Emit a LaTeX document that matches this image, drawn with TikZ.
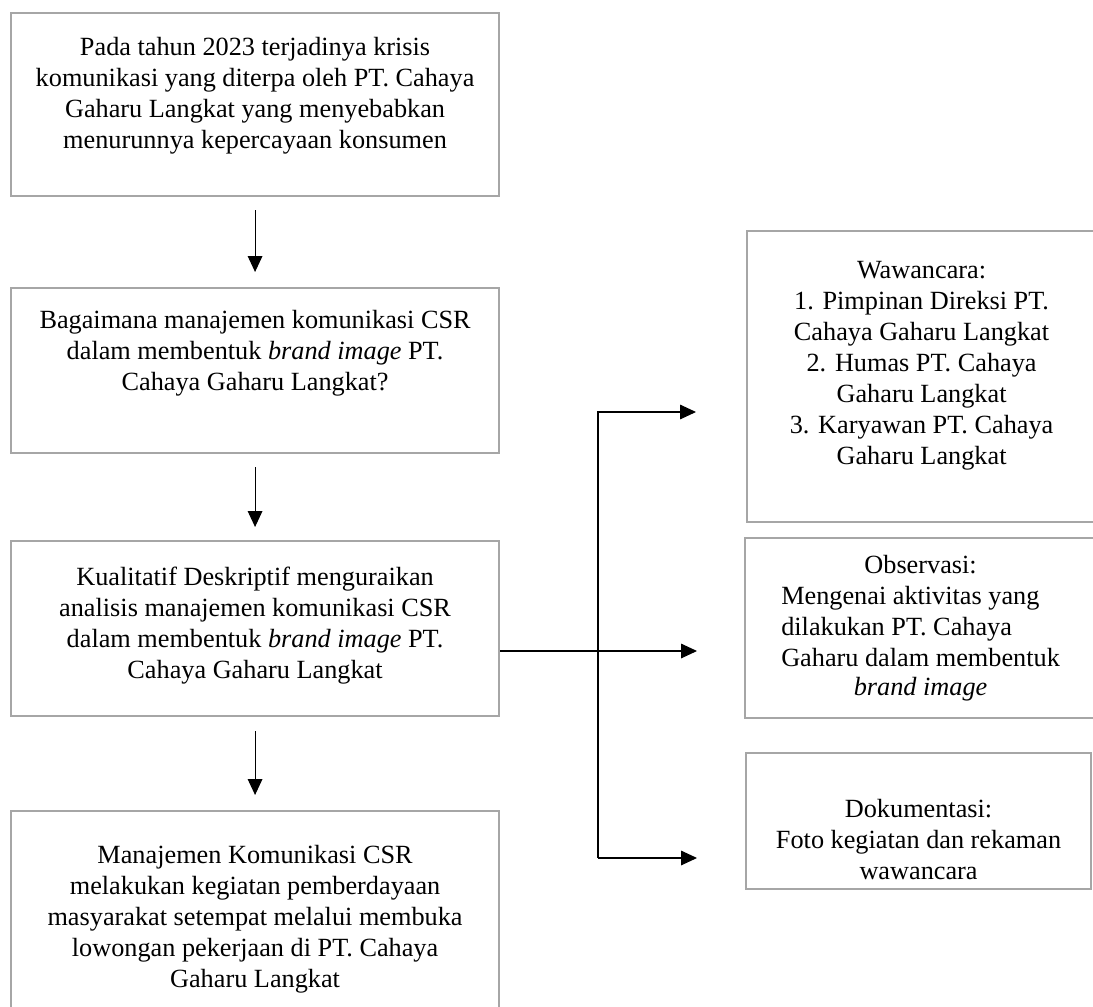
\documentclass[tikz,border=0pt]{standalone}
\usepackage{fontspec}
\setmainfont{Liberation Serif}
\usetikzlibrary{arrows.meta}
\definecolor{bingkai}{RGB}{166,166,166}
\newcommand{\isikotak}[4]{\parbox[c][#2][t]{#1}{\centering\vspace*{#3}#4\par}}

\begin{document}
\begin{tikzpicture}[x=0.75pt,y=-0.75pt,
    kotak/.style={draw=bingkai,line width=1.6pt,inner sep=0pt,anchor=north west,
      font=\fontsize{19.7}{23.25}\selectfont},
    panah/.style={-{Triangle[length=12pt,width=11pt]},line width=0.8pt},
    garis/.style={line width=0.8pt}]
  \useasboundingbox (0,0) rectangle (1093,1007);
  \clip (0,0) rectangle (1093,1007);
  % kolom kiri
  \node[kotak] (masalah) at (10,12) {\isikotak{366pt}{137.25pt}{18pt}{Pada tahun 2023 terjadinya krisis\\
    komunikasi yang diterpa oleh PT. Cahaya\\ Gaharu Langkat yang menyebabkan\\ menurunnya kepercayaan konsumen}};
  \node[kotak] (rumusan) at (10,287) {\isikotak{366pt}{123.75pt}{16.5pt}{Bagaimana manajemen komunikasi CSR\\
    dalam membentuk \textit{brand image} PT.\\ Cahaya Gaharu Langkat?}};
  \node[kotak] (metode) at (10,540) {\isikotak{366pt}{131.25pt}{19.5pt}{Kualitatif Deskriptif menguraikan\\
    analisis manajemen komunikasi CSR\\ dalam membentuk \textit{brand image} PT.\\ Cahaya Gaharu Langkat}};
  \node[kotak] (hasil) at (10,810) {\isikotak{366pt}{153.75pt}{26pt}{Manajemen Komunikasi CSR\\
    melakukan kegiatan pemberdayaan\\ masyarakat setempat melalui membuka\\ lowongan pekerjaan di PT. Cahaya\\ Gaharu Langkat}};
  % kolom kanan
  \node[kotak] (wawancara) at (746,230) {\isikotak{261.75pt}{218.25pt}{22.5pt}{Wawancara:\\
    1. Pimpinan Direksi PT.\\ Cahaya Gaharu Langkat\\ 2. Humas PT. Cahaya\\ Gaharu Langkat\\ 3. Karyawan PT. Cahaya\\ Gaharu Langkat}};
  \node[kotak] (observasi) at (744,537) {\isikotak{263.25pt}{135pt}{13pt}{Observasi:\\
    \begin{tabular}[t]{@{}l@{}}Mengenai aktivitas yang\\ dilakukan PT. Cahaya\\ Gaharu dalam membentuk\end{tabular}\\
    \textit{brand image}}};
  \node[kotak] (dokumentasi) at (745,752) {\isikotak{258.75pt}{102pt}{35pt}{Dokumentasi:\\
    Foto kegiatan dan rekaman\\ wawancara}};

  % panah ke bawah
  \draw[panah,shorten <=9.75pt,shorten >=11.25pt] (masalah) -- (rumusan);
  \draw[panah,shorten <=9.75pt,shorten >=9.75pt] (rumusan) -- (metode);
  \draw[panah,shorten <=10.5pt,shorten >=11.25pt] (metode) -- (hasil);

  % cabang ke teknik pengumpulan data
  \coordinate (atas) at (598,412);
  \coordinate (cabang) at (598,651);
  \coordinate (bawah) at (598,858);
  \draw[garis] (metode.east |- cabang) -- (cabang);
  \draw[panah,shorten >=37.5pt] (bawah) -- (atas) -- (wawancara.west |- atas);
  \draw[panah,shorten >=35.25pt] (cabang) -- (observasi.west |- cabang);
  \draw[panah,shorten >=36pt] (bawah) -- (dokumentasi.west |- bawah);
\end{tikzpicture}
\end{document}
